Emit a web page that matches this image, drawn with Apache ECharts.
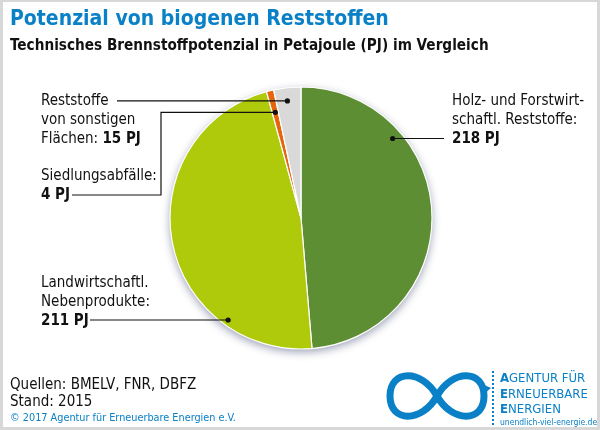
<!DOCTYPE html>
<html><head><meta charset="utf-8">
<script src="https://cdn.jsdelivr.net/npm/echarts@6/dist/echarts.min.js"></script>
<style>html,body{margin:0;padding:0;background:#fff}#c{width:600px;height:430px}</style>
</head><body><div id="c"></div>
<script>
// ---- data ----
const categories = ['Holz- und Forstwirtschaftl. Reststoffe', 'Landwirtschaftl. Nebenprodukte', 'Siedlungsabfälle', 'Reststoffe von sonstigen Flächen'];
const values = [218, 211, 4, 15];
const unit = 'PJ';
const titleText = 'Potenzial von biogenen Reststoffen';
const subtitleText = 'Technisches Brennstoffpotenzial in Petajoule (PJ) im Vergleich';
const labelLines = [
  ['Holz- und Forstwirt-', 'schaftl. Reststoffe:'],
  ['Landwirtschaftl.', 'Nebenprodukte:'],
  ['Siedlungsabfälle:'],
  ['Reststoffe', 'von sonstigen', 'Flächen:']
];
const sourceLines = ['Quellen: BMELV, FNR, DBFZ', 'Stand: 2015'];
const copyrightText = '© 2017 Agentur für Erneuerbare Energien e.V.';

// ---- style ----
const sliceColors = ['#5e8e34', '#afca0b', '#e5650f', '#d9d9d9'];
const BLUE = '#0a80c6';
const FONT = "'Liberation Sans Narrow', 'DejaVu Sans Condensed', sans-serif";
const CX = 301, CY = 218, R = 131;
const LH = 19;
const FS = 15;

const total = values.reduce((a, b) => a + b, 0);
function slicePoint(i, frac, rf) {
  let start = 0;
  for (let k = 0; k < i; k++) start += values[k];
  const a = (start + frac * values[i]) / total * 2 * Math.PI;
  return [CX + R * rf * Math.sin(a), CY - R * rf * Math.cos(a)];
}

const chart = echarts.init(document.getElementById('c'), null, {renderer: 'canvas'});

const g = [];
// frame
g.push({type: 'rect', shape: {x: 0, y: 0, width: 600, height: 2}, style: {fill: '#d8d8d8'}, silent: true});
g.push({type: 'rect', shape: {x: 0, y: 0, width: 3, height: 430}, style: {fill: '#d8d8d8'}, silent: true});
g.push({type: 'rect', shape: {x: 597, y: 0, width: 3, height: 430}, style: {fill: '#d8d8d8'}, silent: true});
g.push({type: 'rect', shape: {x: 0, y: 427, width: 600, height: 3}, style: {fill: '#d8d8d8'}, silent: true});

// titles
g.push({type: 'text', style: {x: 10, y: 20, text: titleText, fill: BLUE, font: "bold 21px " + FONT, verticalAlign: 'middle'}});
g.push({type: 'text', style: {x: 10, y: 46, text: subtitleText, fill: '#111', font: "bold 15.2px " + FONT, verticalAlign: 'middle'}});

const richB = {b: {font: "bold " + FS + "px " + FONT, fill: '#111', lineHeight: LH}};
function label(x, y, text) {
  g.push({type: 'text', style: {x: x, y: y, text: text, fill: '#111', font: FS + "px " + FONT, lineHeight: LH, verticalAlign: 'top', rich: richB}});
}
function dot(p) {
  g.push({type: 'circle', shape: {cx: p[0], cy: p[1], r: 2.6}, style: {fill: '#111'}, z: 10});
}
function line(points) {
  g.push({type: 'polyline', shape: {points: points}, style: {stroke: '#111', lineWidth: 1.2, fill: null}, z: 10});
}
const valTxt = i => '{b|' + values[i] + ' ' + unit + '}';

// Holz
const pH = slicePoint(0, 0.28, 0.926);
label(452, 91.5, labelLines[0].join('\n') + '\n' + valTxt(0));
line([[444, pH[1]], pH]); dot(pH);

// Landwirtschaft
const pL = slicePoint(1, 0.238, 0.957);
label(41, 273.5, labelLines[1].join('\n') + '\n' + valTxt(1));
line([[90, pL[1]], pL]); dot(pL);

// Siedlungsabfälle
const pS = slicePoint(2, 0.5, 0.83);
label(41, 166.5, labelLines[2].join('\n') + '\n' + valTxt(2));
line([[72, 195], [161, 195], [161, pS[1]], pS]); dot(pS);

// Reststoffe sonstige
const pR = slicePoint(3, 0.45, 0.9);
label(41, 91.5, labelLines[3].slice(0, 2).join('\n') + '\n' + labelLines[3][2] + ' ' + valTxt(3));
line([[117, pR[1]], pR]); dot(pR);

// footer
g.push({type: 'text', style: {x: 10, y: 377, text: sourceLines.join('\n'), fill: '#111', font: "15px " + FONT, lineHeight: 16.5, verticalAlign: 'top'}});
g.push({type: 'text', style: {x: 10, y: 418, text: copyrightText, fill: BLUE, font: "10.8px " + FONT, verticalAlign: 'middle'}});

// logo (infinity)
const inf = [
  [437,396, 452,369, 484,369, 484,396],
  [484,396, 484,423, 452,423, 437,396],
  [437,396, 422,369, 390,369, 390,396],
  [390,396, 390,423, 422,423, 437,396]
];
inf.forEach(c => g.push({type: 'bezierCurve', shape: {x1: c[0], y1: c[1], cpx1: c[2], cpy1: c[3], cpx2: c[4], cpy2: c[5], x2: c[6], y2: c[7]}, style: {stroke: BLUE, lineWidth: 7, fill: null, lineCap: 'butt'}}));
g.push({type: 'polygon', shape: {points: [[482, 384], [491, 388], [484, 394]]}, style: {fill: BLUE}});
g.push({type: 'line', shape: {x1: 493, y1: 371, x2: 493, y2: 427}, style: {stroke: BLUE, lineWidth: 2, lineDash: [2, 2]}});
g.push({type: 'text', style: {x: 500, y: 371, text: '{b|A}GENTUR FÜR\n{b|E}RNEUERBARE\n{b|E}NERGIEN', fill: BLUE, font: "13px " + FONT, lineHeight: 15.5, verticalAlign: 'top', rich: {b: {font: "bold 13px " + FONT, fill: BLUE, lineHeight: 15.5}}}});
g.push({type: 'text', style: {x: 500, y: 423, text: 'unendlich-viel-energie.de', fill: BLUE, font: "8.5px " + FONT, verticalAlign: 'middle'}});

chart.setOption({
  animation: false,
  graphic: g,
  series: [
    {
      type: 'pie', center: [CX, CY], radius: R, silent: true, z: 1,
      label: {show: false}, labelLine: {show: false},
      data: [{value: total, itemStyle: {color: '#fff', shadowBlur: 8, shadowColor: 'rgba(30,40,90,0.45)', shadowOffsetY: 3}}]
    },
    {
      type: 'pie', center: [CX, CY], radius: R, startAngle: 90, clockwise: true, silent: true, z: 2,
      label: {show: false}, labelLine: {show: false},
      itemStyle: {borderColor: '#fff', borderWidth: 1.2},
      data: categories.map((c, i) => ({name: c, value: values[i], itemStyle: {color: sliceColors[i]}}))
    }
  ]
});
</script>
</body></html>
